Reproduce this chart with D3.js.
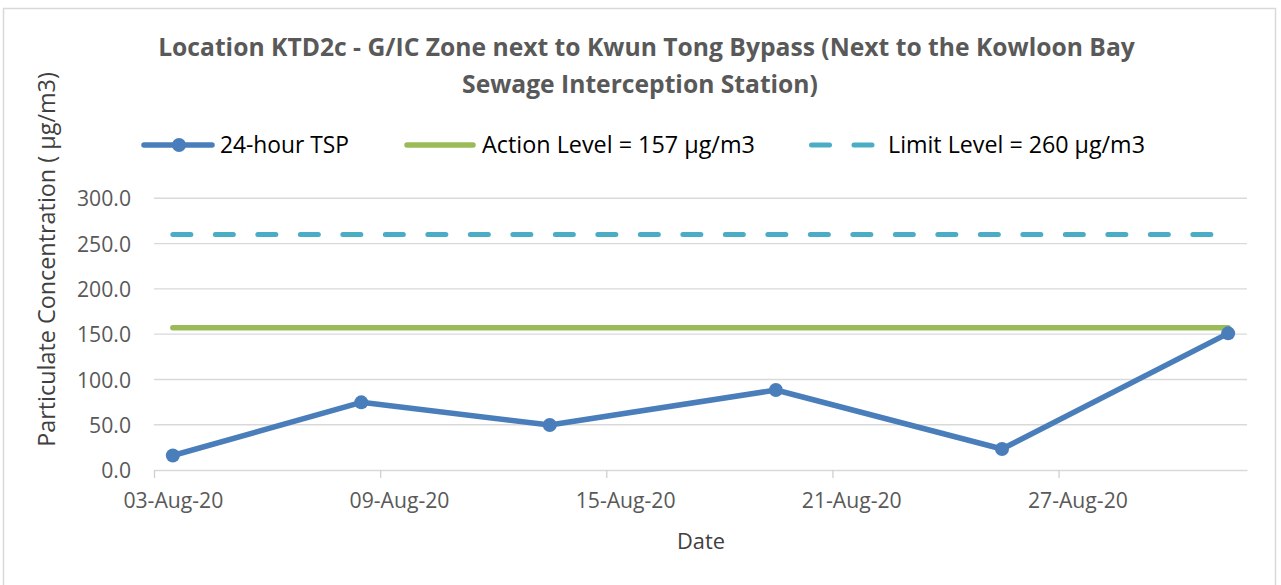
<!DOCTYPE html>
<html>
<head>
<meta charset="utf-8">
<script src="https://cdn.jsdelivr.net/npm/d3@7"></script>
<style>
  body { margin: 0; background: #fff; }
  svg { display: block; font-family: 'Open Sans', sans-serif; }
</style>
</head>
<body>
<svg id="chart" width="1281" height="585"></svg>
<script>
// data
const sampleDates = ['2020-08-03', '2020-08-08', '2020-08-13', '2020-08-19', '2020-08-25', '2020-08-31'];
const tspValues = [16.0, 74.7, 49.7, 88.3, 23.2, 150.9];
const actionLevel = 157;
const limitLevel = 260;
const xTickDates = ['2020-08-03', '2020-08-09', '2020-08-15', '2020-08-21', '2020-08-27'];
const yTickValues = [0, 50, 100, 150, 200, 250, 300];
const titleLines = ['Location KTD2c - G/IC Zone next to Kwun Tong Bypass (Next to the Kowloon Bay', 'Sewage Interception Station)'];
const seriesNames = ['24-hour TSP', 'Action Level = 157 µg/m3', 'Limit Level = 260 µg/m3'];

const blue = '#4a7ebb', green = '#9bbb59', teal = '#4bacc6';
const gridColor = '#d9d9d9';

const parse = d3.utcParse('%Y-%m-%d');
const halfDay = 12 * 3600 * 1000;

const svg = d3.select('#chart');

// size a text so that its rendered width matches the reference
function fit(sel, target) {
  sel.style('font-size', '20px');
  const w = sel.node().getComputedTextLength();
  sel.style('font-size', (20 * target / w) + 'px');
  return sel;
}

svg.append('rect')
  .attr('width', 1281).attr('height', 585).attr('fill', '#fff');
svg.append('rect')
  .attr('x', 3.5).attr('y', 8.5).attr('width', 1272).attr('height', 600)
  .attr('fill', 'none').attr('stroke', gridColor).attr('stroke-width', 1.5);

const x = d3.scaleUtc()
  .domain([parse('2020-08-03'), parse('2020-09-01')])
  .range([154, 1247]);
const y = d3.scaleLinear()
  .domain([0, 300])
  .range([470, 198.3]);

// title
const titleX = [646.5, 640];
const titleY = [56, 93];
const titleW = [977, 356];
titleLines.forEach((t, i) => {
  const el = svg.append('text')
    .attr('x', titleX[i]).attr('y', titleY[i])
    .attr('text-anchor', 'middle')
    .attr('font-weight', 'bold')
    .attr('fill', '#595959')
    .text(t);
  fit(el, titleW[i]);
});

// gridlines
svg.append('g')
  .selectAll('line')
  .data(yTickValues.filter(v => v > 0))
  .join('line')
  .attr('x1', 154).attr('x2', 1247)
  .attr('y1', d => y(d)).attr('y2', d => y(d))
  .attr('stroke', gridColor).attr('stroke-width', 1.4);

// x axis
const xAxis = svg.append('g')
  .attr('transform', 'translate(0,470)')
  .call(d3.axisBottom(x)
    .tickValues(xTickDates.map(parse))
    .tickSize(8).tickSizeOuter(0)
    .tickFormat(d3.utcFormat('%d-%b-%y')));
xAxis.select('.domain').attr('stroke', gridColor).attr('stroke-width', 1.5);
xAxis.selectAll('.tick line').attr('stroke', '#d0d0d0').attr('stroke-width', 1.3);
xAxis.selectAll('.tick text')
  .attr('x', x(parse('2020-08-03').getTime() + halfDay) - x(parse('2020-08-03')))
  .attr('y', 38).attr('dy', 0)
  .attr('fill', '#595959')
  .attr('font-family', 'Open Sans');
fit(xAxis.select('.tick text'), 100);
const tickFont = xAxis.select('.tick text').style('font-size');
xAxis.selectAll('.tick text').style('font-size', tickFont);

// y axis labels
const yAxis = svg.append('g')
  .attr('transform', 'translate(154,0)')
  .call(d3.axisLeft(y).tickValues(yTickValues).tickFormat(d3.format('.1f')).tickSize(0).tickPadding(23));
yAxis.select('.domain').remove();
yAxis.selectAll('text')
  .attr('fill', '#595959')
  .attr('font-family', 'Open Sans')
  .attr('dy', '0.36em')
  .style('font-size', tickFont);

// axis titles
const yTitle = svg.append('text')
  .attr('transform', 'translate(55,259.5) rotate(-90)')
  .attr('text-anchor', 'middle')
  .attr('fill', '#404040')
  .text('Particulate Concentration ( µg/m3)');
fit(yTitle, 375);

const xTitle = svg.append('text')
  .attr('x', 701).attr('y', 549)
  .attr('text-anchor', 'middle')
  .attr('fill', '#404040')
  .text('Date');
fit(xTitle, 48);

// series
const points = sampleDates.map((d, i) => ({ date: parse(d), value: tspValues[i] }));
const cx = d => x(d.getTime() + halfDay);
const first = parse(sampleDates[0]);
const last = parse(sampleDates[sampleDates.length - 1]);

svg.append('line')
  .attr('x1', cx(first)).attr('x2', cx(last))
  .attr('y1', y(limitLevel)).attr('y2', y(limitLevel))
  .attr('stroke', teal).attr('stroke-width', 5)
  .attr('stroke-linecap', 'round')
  .attr('stroke-dasharray', '18 24.5');

svg.append('line')
  .attr('x1', cx(first)).attr('x2', cx(last))
  .attr('y1', y(actionLevel)).attr('y2', y(actionLevel))
  .attr('stroke', green).attr('stroke-width', 5.5)
  .attr('stroke-linecap', 'round');

const line = d3.line()
  .x(d => cx(d.date))
  .y(d => y(d.value));

svg.append('path')
  .datum(points)
  .attr('d', line)
  .attr('fill', 'none')
  .attr('stroke', blue)
  .attr('stroke-width', 5.5)
  .attr('stroke-linejoin', 'round')
  .attr('stroke-linecap', 'round');

svg.append('g')
  .selectAll('circle')
  .data(points)
  .join('circle')
  .attr('cx', d => cx(d.date))
  .attr('cy', d => y(d.value))
  .attr('r', 7)
  .attr('fill', blue);

// legend
const legendY = 145;
const legend = svg.append('g');

legend.append('line')
  .attr('x1', 144).attr('x2', 212).attr('y1', legendY).attr('y2', legendY)
  .attr('stroke', blue).attr('stroke-width', 5.5).attr('stroke-linecap', 'round');
legend.append('circle')
  .attr('cx', 179).attr('cy', legendY).attr('r', 7).attr('fill', blue);

legend.append('line')
  .attr('x1', 407).attr('x2', 473).attr('y1', legendY).attr('y2', legendY)
  .attr('stroke', green).attr('stroke-width', 5.5).attr('stroke-linecap', 'round');

legend.append('line')
  .attr('x1', 811.5).attr('x2', 873).attr('y1', legendY).attr('y2', legendY)
  .attr('stroke', teal).attr('stroke-width', 5).attr('stroke-linecap', 'round')
  .attr('stroke-dasharray', '18 24.5');

const legendX = [220, 482, 888];
const legendW = [129, 273, 257];
seriesNames.forEach((name, i) => {
  const el = legend.append('text')
    .attr('x', legendX[i]).attr('y', 152.5)
    .attr('fill', '#000')
    .text(name);
  fit(el, legendW[i]);
});
</script>
</body>
</html>
